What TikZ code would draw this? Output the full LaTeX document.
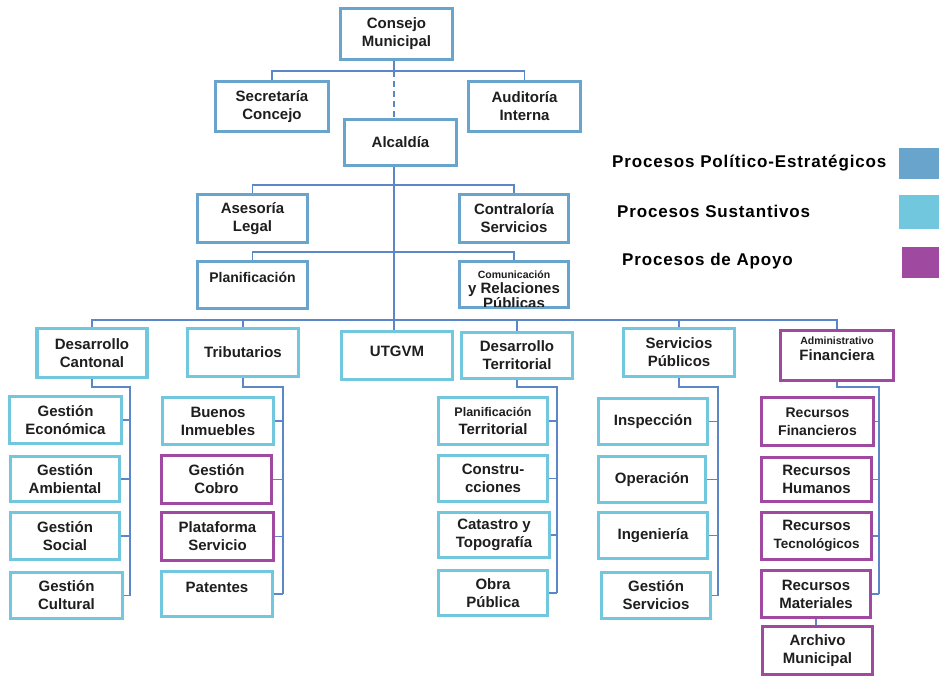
\documentclass[tikz,border=0pt]{standalone}
\usepackage{fontspec}
\setmainfont{Liberation Sans}
\newfontfamily\leyfont{Liberation Sans}[LetterSpace=5]
\usetikzlibrary{calc}
\definecolor{azulp}{HTML}{69A4CC}
\definecolor{celeste}{HTML}{71C7DD}
\definecolor{morado}{HTML}{A049A0}
\definecolor{linea}{HTML}{5B87C9}
\definecolor{texto}{HTML}{1E1E1E}
\newcommand{\fs}[1]{\fontsize{#1}{18}\selectfont}
\tikzset{
  caja/.style={draw,fill=white,line width=3.2pt,inner sep=0pt,font=\bfseries\fs{15},text=texto,align=center},
  cajap/.style={caja,draw=azulp},
  cajas/.style={caja,draw=celeste},
  cajaa/.style={caja,draw=morado},
  tam/.style 2 args={minimum width=#1,minimum height=#2},
  txt/.style={font=\bfseries\fs{15},text=texto,align=center,inner sep=0pt},
  rama/.style={linea,line width=1.1pt},
  ley/.style={anchor=west,inner sep=0pt,text=black,font=\leyfont\bfseries\fs{17}},
}

\begin{document}
\begin{tikzpicture}[x=1pt,y=-1pt]
  \useasboundingbox (0,0) rectangle (939,677);
  % politico-estrategicos
  \node[cajap,tam={112}{51}] (cm) at (396.5,34) {Consejo\\Municipal};
  \node[cajap,tam={113}{50}] (sec) at (272,106.5) {Secretaría\\Concejo};
  \node[cajap,tam={112}{50}] (aud) at (524.5,106.5) {Auditoría\\Interna};
  \node[cajap,tam={112}{46}] (alc) at (400.5,142.5) {Alcaldía};
  \node[cajap,tam={110}{48}] (ase) at (252.5,218.5) {Asesoría\\Legal};
  \node[cajap,tam={109}{48}] (con) at (514,218.5) {Contraloría\\Servicios};
  \node[cajap,tam={110}{47}] (pla) at (252.5,285) {};
  \node[txt] (pla-t) at (252.5,277) {\fs{14}Planificación};
  \node[cajap,tam={109}{46}] (com) at (514,284.5) {};
  \begin{scope}
    \clip ([shift={(3,3)}]com.north west) rectangle ([shift={(-3,-3)}]com.south east);
    \node[txt,anchor=north] (com-t) at (514,271) {{\fs{10.5}Comunicación}\\[-3pt]y Relaciones\\[-3pt]Públicas};
  \end{scope}
  % nivel operativo
  \node[cajas,tam={110}{49}] (dc) at (92,353) {Desarrollo\\Cantonal};
  \node[cajas,tam={111}{48}] (tri) at (243,352.5) {Tributarios};
  \node[cajas,tam={111}{48}] (utg) at (397,355.5) {};
  \node[txt] (utg-t) at (397,351) {UTGVM};
  \node[cajas,tam={111}{46}] (dt) at (517,355.5) {Desarrollo\\Territorial};
  \node[cajas,tam={111}{48}] (sp) at (679,352.5) {Servicios\\Públicos};
  \node[cajaa,tam={113}{50}] (adm) at (837,355.5) {};
  \node[txt] (adm-t) at (837,349) {{\fs{10.5}Administrativo}\\[-2pt]Financiera};
  % desarrollo cantonal
  \node[cajas,tam={112}{47}] (ge) at (65.5,420) {Gestión\\Económica};
  \node[cajas,tam={109}{45}] (ga) at (65,479) {Gestión\\Ambiental};
  \node[cajas,tam={109}{47}] (gs) at (65,536) {Gestión\\Social};
  \node[cajas,tam={112}{46}] (gc) at (66.5,595.5) {Gestión\\Cultural};
  % tributarios
  \node[cajas,tam={111}{47}] (bi) at (218,421) {Buenos\\Inmuebles};
  \node[cajaa,tam={110}{48}] (gco) at (216.5,479.5) {Gestión\\Cobro};
  \node[cajaa,tam={112}{48}] (pse) at (217.5,536.5) {Plataforma\\Servicio};
  \node[cajas,tam={111}{45}] (pat) at (217,594) {};
  \node[txt] (pat-t) at (217,587) {Patentes};
  % desarrollo territorial
  \node[cajas,tam={109}{47}] (plt) at (493,421) {{\fs{12.5}Planificación}\\Territorial};
  \node[cajas,tam={109}{46}] (cns) at (493,478.5) {Constru-\\cciones};
  \node[cajas,tam={111}{45}] (cat) at (494,535) {Catastro y\\Topografía};
  \node[cajas,tam={109}{45}] (obr) at (493,593) {Obra\\Pública};
  % servicios publicos
  \node[cajas,tam={109}{46}] (ins) at (653,421.5) {Inspección};
  \node[cajas,tam={107}{46}] (ope) at (652,479.5) {Operación};
  \node[cajas,tam={109}{46}] (ing) at (653,535.5) {Ingeniería};
  \node[cajas,tam={109}{46}] (gse) at (656,595.5) {Gestión\\Servicios};
  % administrativo financiera
  \node[cajaa,tam={112}{48}] (rf) at (817.5,421.5) {\fs{14}Recursos\\\fs{14}Financieros};
  \node[cajaa,tam={110}{44}] (rh) at (816.5,479.5) {Recursos\\Humanos};
  \node[cajaa,tam={110}{47}] (rt) at (816.5,536) {Recursos\\\fs{13.5}Tecnológicos};
  \node[cajaa,tam={109}{47}] (rm) at (816,594) {Recursos\\Materiales};
  \node[cajaa,tam={110}{48}] (arc) at (817.5,650.5) {Archivo\\Municipal};
  % conectores
  \coordinate (tronco) at (394,0);
  \coordinate (j1) at (394,71);
  \coordinate (j2) at (394,185);
  \coordinate (j3) at (394,252);
  \coordinate (j4) at (394,320);
  \draw[rama] (tronco |- cm.south) -- (j1);
  \draw[rama,dash pattern=on 6pt off 4pt] (j1) -- (tronco |- alc.north);
  \draw[rama] (sec.north) |- (j1) -| (aud.north);
  \draw[rama] (tronco |- alc.south) -- (tronco |- utg.north);
  \draw[rama] (ase.north) |- (j2) -| (con.north);
  \draw[rama] (pla.north) |- (j3) -| (com.north);
  \draw[rama] (dc.north) |- (j4) -| (adm.north);
  \foreach \n in {tri,dt,sp}
    \draw[rama] (\n.north) -- (\n.north |- j4);
  \coordinate (rdc) at (130,387);
  \coordinate (rtri) at (283,387);
  \coordinate (rdt) at (557,387);
  \coordinate (rsp) at (718,387);
  \coordinate (radm) at (879,387);
  \draw[rama] (dc.south) |- (rdc) -- (rdc |- gc.east);
  \draw[rama] (tri.south) |- (rtri) -- (rtri |- pat.east);
  \draw[rama] (dt.south) |- (rdt) -- (rdt |- obr.east);
  \draw[rama] (sp.south) |- (rsp) -- (rsp |- gse.east);
  \draw[rama] (adm.south) |- (radm) -- (radm |- rm.east);
  \foreach \n in {ge,ga,gs,gc} \draw[rama] (\n.east) -- (\n.east -| rdc);
  \foreach \n in {bi,gco,pse,pat} \draw[rama] (\n.east) -- (\n.east -| rtri);
  \foreach \n in {plt,cns,cat,obr} \draw[rama] (\n.east) -- (\n.east -| rdt);
  \foreach \n in {ins,ope,ing,gse} \draw[rama] (\n.east) -- (\n.east -| rsp);
  \foreach \n in {rf,rh,rt,rm} \draw[rama] (\n.east) -- (\n.east -| radm);
  \draw[rama] (rm.south) -- (rm.south |- arc.north);
  % leyenda
  \node[ley] (ley1) at (612,163) {Procesos Político-Estratégicos};
  \node[ley] (ley2) at (617,211) {Procesos Sustantivos};
  \node[ley] (ley3) at (622,261) {Procesos de Apoyo};
  \fill[azulp] (899,148) rectangle (939,179);
  \fill[celeste] (899,195) rectangle (939,229);
  \fill[morado] (902,247) rectangle (939,278);
\end{tikzpicture}
\end{document}
